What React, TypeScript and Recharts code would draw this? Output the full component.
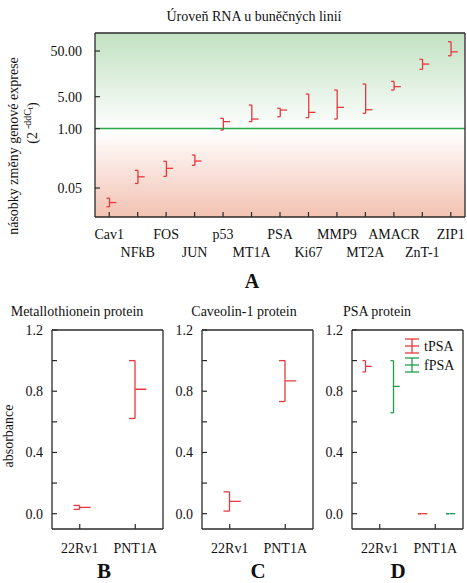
import React from 'react';
import {
  ComposedChart,
  Bar,
  Scatter,
  XAxis,
  YAxis,
  ReferenceLine,
  ReferenceArea,
  Legend
} from 'recharts';

// panel A: relative RNA expression (2^-ddCt), log scale
const genes = ['Cav1', 'NFkB', 'FOS', 'JUN', 'p53', 'MT1A', 'PSA', 'Ki67', 'MMP9', 'MT2A', 'AMACR', 'ZnT-1', 'ZIP1'];
const geneMean = [0.024, 0.088, 0.135, 0.195, 1.42, 1.62, 2.55, 2.27, 2.92, 2.59, 8.3, 25.9, 48];
const geneLow = [0.0195, 0.063, 0.09, 0.157, 0.93, 1.42, 1.82, 1.73, 1.62, 2.16, 7.0, 19.9, 39.4];
const geneHigh = [0.03, 0.122, 0.192, 0.264, 1.68, 3.28, 2.78, 5.72, 7.0, 9.46, 10.8, 32.9, 80];
const geneTicks = [0.05, 0.5, 1, 5, 50];
const geneMirrorTicks = [1, 2, 3, 4, 5, 6, 7, 8, 9];
const geneDomain = [0.0116, 124];

// panels B-D: protein absorbance
const cells = ['22Rv1', 'PNT1A'];
const mtMean = [0.041, 0.813];
const mtLow = [0.028, 0.622];
const mtHigh = [0.054, 1.0];
const cavMean = [0.08, 0.868];
const cavLow = [0.017, 0.733];
const cavHigh = [0.143, 1.0];
const tpsaMean = [0.963, 0];
const tpsaLow = [0.926, 0];
const tpsaHigh = [1.0, 0];
const fpsaMean = [0.832, 0];
const fpsaLow = [0.659, 0];
const fpsaHigh = [1.0, 0];
const absTicks = [0, 0.2, 0.4, 0.6, 0.8, 1.0, 1.2];
const psaOrder = ['tPSA', 'fPSA'];

const RED = '#e8383d';
const GREEN = '#1f9e4b';
const AXIS = '#2a2a2a';
const FONT = "'Liberation Serif', 'Times New Roman', serif";

const geneRows = genes.map((name, i) => ({ name, mean: geneMean[i], range: [geneLow[i], geneHigh[i]] }));
const toRows = (mean: number[], low: number[], high: number[]) =>
  cells.map((name, i) => ({ name, mean: mean[i], range: [low[i], high[i]] }));
const mtRows = toRows(mtMean, mtLow, mtHigh);
const cavRows = toRows(cavMean, cavLow, cavHigh);
const psaRows = cells.map((name, i) => ({
  name,
  t: tpsaMean[i],
  tRange: [tpsaLow[i], tpsaHigh[i]],
  f: fpsaMean[i],
  fRange: [fpsaLow[i], fpsaHigh[i]]
}));

const axisLine = { stroke: AXIS, strokeWidth: 1.3 };
const tickLine = { stroke: AXIS, strokeWidth: 1.2 };

// vertical range with caps on the left ("]")
const rangeShape = (color: string, cap: number) => (p: any) => {
  const cx = p.x + p.width / 2;
  const top = p.y;
  const bot = p.y + p.height;
  return (
    <g stroke={color} strokeWidth={1.3} fill="none">
      <line x1={cx} y1={top} x2={cx} y2={bot} />
      <line x1={cx - cap} y1={top} x2={cx} y2={top} />
      <line x1={cx - cap} y1={bot} x2={cx} y2={bot} />
    </g>
  );
};

// mean tick to the right
const meanShape = (color: string, off: number, len: number) => (p: any) => (
  <line x1={p.cx + off} y1={p.cy} x2={p.cx + off + len} y2={p.cy} stroke={color} strokeWidth={1.3} />
);

const GeneTick = (props: any) => {
  const { x, y, payload, index } = props;
  return (
    <text x={x} y={y + (index % 2 ? 45 : 27)} textAnchor="middle" fontSize={14} fill="#111">
      {payload.value}
    </text>
  );
};

const CellTick = (props: any) => {
  const { x, y, payload } = props;
  return (
    <text x={x} y={y + 29} textAnchor="middle" fontSize={14} fill="#111">
      {payload.value}
    </text>
  );
};

const PsaLegend = (props: any) => {
  const items = (props.payload || [])
    .filter((p: any) => psaOrder.includes(p.value))
    .sort((a: any, b: any) => psaOrder.indexOf(a.value) - psaOrder.indexOf(b.value));
  return (
    <svg width={62} height={40}>
      {items.map((p: any, i: number) => {
        const cy = 12 + i * 19;
        return (
          <g key={p.value}>
            <g stroke={p.color} strokeWidth={1.3}>
              <line x1={12} y1={cy - 7} x2={12} y2={cy + 7} />
              <line x1={5} y1={cy - 7} x2={19} y2={cy - 7} />
              <line x1={5} y1={cy} x2={19} y2={cy} />
              <line x1={5} y1={cy + 7} x2={19} y2={cy + 7} />
            </g>
            <text x={24} y={cy + 5} fontSize={14} fill="#111" fontFamily={FONT}>
              {p.value}
            </text>
          </g>
        );
      })}
    </svg>
  );
};

const absAxes = [
  <XAxis
    key="xb"
    dataKey="name"
    interval={0}
    height={54}
    tickSize={-5}
    tickMargin={0}
    axisLine={axisLine}
    tickLine={tickLine}
    tick={<CellTick />}
  />,
  <XAxis
    key="xt"
    xAxisId="top"
    orientation="top"
    dataKey="name"
    interval={0}
    height={1}
    tickSize={-5}
    tick={false}
    axisLine={axisLine}
    tickLine={tickLine}
  />,
  <YAxis
    key="yl"
    type="number"
    domain={[-0.1, 1.2]}
    allowDataOverflow
    ticks={absTicks}
    tickFormatter={(v: number) => (Math.round(v * 10) % 4 === 0 ? v.toFixed(1) : '')}
    width={52}
    tickSize={-5}
    tickMargin={14}
    tick={{ fontSize: 14, fill: '#111' }}
    axisLine={axisLine}
    tickLine={tickLine}
  />,
  <YAxis
    key="yr"
    yAxisId="r"
    orientation="right"
    type="number"
    domain={[-0.1, 1.2]}
    allowDataOverflow
    ticks={absTicks}
    width={1}
    tickSize={-5}
    tick={false}
    axisLine={axisLine}
    tickLine={tickLine}
  />
];

const absMargin = { top: 39, right: 2, bottom: 0, left: 0 };

export default function App() {
  return (
    <div style={{ position: 'absolute', left: 0, top: 0, width: 467, height: 583, background: '#fff', fontFamily: FONT }}>
      <div style={{ position: 'absolute', left: 0, top: 0 }}>
        <ComposedChart width={467} height={262} data={geneRows} margin={{ top: 32, right: 1, bottom: 0, left: 0 }}>
          <defs>
            <linearGradient id="bgA" x1="0" y1="0" x2="0" y2="1">
              <stop offset="0" stopColor="#c2e1c2" />
              <stop offset="0.5" stopColor="#fbfdfb" />
              <stop offset="0.53" stopColor="#ffffff" />
              <stop offset="1" stopColor="#f3c2b2" />
            </linearGradient>
          </defs>
          <ReferenceArea y1={geneDomain[0]} y2={geneDomain[1]} fill="url(#bgA)" fillOpacity={1} stroke="none" ifOverflow="visible" />
          <XAxis
            dataKey="name"
            interval={0}
            height={45}
            tickSize={-5}
            tickMargin={0}
            axisLine={axisLine}
            tickLine={tickLine}
            tick={<GeneTick />}
          />
          <XAxis
            xAxisId="top"
            orientation="top"
            dataKey="name"
            interval={0}
            height={1}
            tickSize={-5}
            tick={false}
            axisLine={axisLine}
            tickLine={tickLine}
          />
          <YAxis
            type="number"
            scale="log"
            domain={geneDomain}
            allowDataOverflow
            ticks={geneTicks}
            tickFormatter={(v: number) => v.toFixed(2)}
            width={95}
            tickSize={-5}
            tickMargin={18}
            tick={{ fontSize: 14, fill: '#111' }}
            axisLine={axisLine}
            tickLine={tickLine}
          />
          <YAxis
            yAxisId="r"
            orientation="right"
            type="number"
            domain={[0, 10]}
            ticks={geneMirrorTicks}
            width={1}
            tickSize={-5}
            tick={false}
            axisLine={axisLine}
            tickLine={tickLine}
          />
          <ReferenceLine y={1} stroke="#27a844" strokeWidth={1.5} />
          <Bar dataKey="range" barSize={1} shape={rangeShape(RED, 3)} isAnimationActive={false} />
          <Scatter dataKey="mean" shape={meanShape(RED, 0, 7)} isAnimationActive={false} />
        </ComposedChart>
      </div>

      <div style={{ position: 'absolute', left: 0, top: 290 }}>
        <ComposedChart width={166} height={293} data={mtRows} margin={absMargin}>
          {absAxes}
          <Bar dataKey="range" barSize={1} shape={rangeShape(RED, 6)} isAnimationActive={false} />
          <Scatter dataKey="mean" shape={meanShape(RED, 0, 11)} isAnimationActive={false} />
        </ComposedChart>
      </div>

      <div style={{ position: 'absolute', left: 150, top: 290 }}>
        <ComposedChart width={166} height={293} data={cavRows} margin={absMargin}>
          {absAxes}
          <Bar dataKey="range" barSize={1} shape={rangeShape(RED, 6)} isAnimationActive={false} />
          <Scatter dataKey="mean" shape={meanShape(RED, 0, 11)} isAnimationActive={false} />
        </ComposedChart>
      </div>

      <div style={{ position: 'absolute', left: 300, top: 290 }}>
        <ComposedChart width={166} height={293} data={psaRows} margin={absMargin} barGap={27}>
          {absAxes}
          <Bar dataKey="tRange" name="tPSA" fill={RED} barSize={1} shape={rangeShape(RED, 3)} isAnimationActive={false} />
          <Bar dataKey="fRange" name="fPSA" fill={GREEN} barSize={1} shape={rangeShape(GREEN, 3)} isAnimationActive={false} />
          <Scatter dataKey="t" legendType="none" shape={meanShape(RED, -14, 6)} isAnimationActive={false} />
          <Scatter dataKey="f" legendType="none" shape={meanShape(GREEN, 14, 6)} isAnimationActive={false} />
          <Legend
            layout="horizontal"
            verticalAlign="middle"
            align="center"
            content={PsaLegend}
            wrapperStyle={{ left: 100, top: 44, width: 62, height: 40 }}
          />
        </ComposedChart>
      </div>

      <svg width={467} height={583} style={{ position: 'absolute', left: 0, top: 0, pointerEvents: 'none' }} fontFamily={FONT} fill="#111">
        <text x={254} y={21} textAnchor="middle" fontSize={14}>Úroveň RNA u buněčných linií</text>
        <text transform="translate(18,146) rotate(-90)" textAnchor="middle" fontSize={14}>násobky změny genové exprese</text>
        <text transform="translate(37,123) rotate(-90)" textAnchor="middle" fontSize={14}>
          (2<tspan dx={3} dy={-6} fontSize={10}>-ddC</tspan>
          <tspan dy={2} fontSize={8}>t</tspan>
          <tspan dy={4} fontSize={14}>)</tspan>
        </text>
        <text x={252} y={288} textAnchor="middle" fontSize={20} fontWeight="bold">A</text>

        <text x={77} y={316} textAnchor="middle" fontSize={14}>Metallothionein protein</text>
        <text x={244} y={316} textAnchor="middle" fontSize={14}>Caveolin-1 protein</text>
        <text x={377} y={316} textAnchor="middle" fontSize={14}>PSA protein</text>
        <text transform="translate(13,436) rotate(-90)" textAnchor="middle" fontSize={14}>absorbance</text>

        <text x={104} y={578} textAnchor="middle" fontSize={21} fontWeight="bold">B</text>
        <text x={258} y={578} textAnchor="middle" fontSize={21} fontWeight="bold">C</text>
        <text x={398} y={578} textAnchor="middle" fontSize={21} fontWeight="bold">D</text>
      </svg>
    </div>
  );
}
